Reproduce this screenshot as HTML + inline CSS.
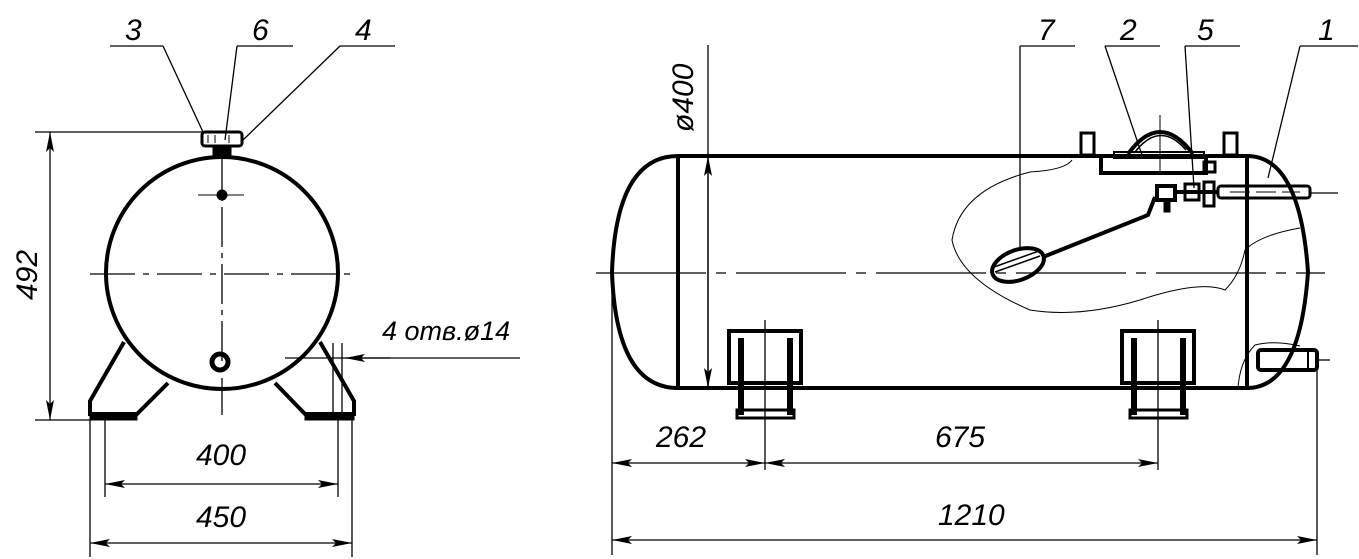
<!DOCTYPE html>
<html><head><meta charset="utf-8"><style>
html,body{margin:0;padding:0;background:#fff}
svg{display:block}
text{font-family:"Liberation Sans",sans-serif;font-style:italic;fill:#000}
</style></head><body>
<svg width="1359" height="559" viewBox="0 0 1359 559" xmlns="http://www.w3.org/2000/svg">
<defs>
<marker id="a" viewBox="0 0 20 8" refX="20" refY="4" markerWidth="20" markerHeight="8" markerUnits="userSpaceOnUse" orient="auto-start-reverse"><path d="M0,0 L20,4 L0,8 L4,4z" fill="#000"/></marker>
</defs>
<g fill="none" stroke="#000">
<!-- LEFT VIEW -->
<circle cx="222" cy="273" r="116" stroke-width="4"/>
<line x1="90" y1="274" x2="358" y2="274" stroke-width="1.3" stroke-dasharray="45,8,6,8"/>
<line x1="222" y1="150" x2="222" y2="415" stroke-width="1.3" stroke-dasharray="40,6,5,6"/>
<rect x="202" y="132" width="40" height="14" rx="3" stroke-width="3"/>
<line x1="208" y1="135" x2="208" y2="143" stroke-width="1"/><line x1="215" y1="135" x2="215" y2="143" stroke-width="1"/><line x1="229" y1="135" x2="229" y2="143" stroke-width="1"/>
<rect x="213" y="146" width="18" height="10" fill="#000" stroke-width="1"/>
<circle cx="222" cy="195" r="5" fill="#000" stroke-width="1"/>
<line x1="198" y1="195" x2="244" y2="195" stroke-width="1"/>
<circle cx="220" cy="362" r="8" stroke-width="5"/>
<!-- feet -->
<path d="M124,342 L90,401 L90,414 L137,414 L168,383" stroke-width="4"/>
<path d="M320,342 L354,401 L354,414 L305,414 L275,383" stroke-width="4"/>
<rect x="90" y="414" width="47" height="6" fill="#000" stroke-width="1"/>
<rect x="305" y="414" width="49" height="6" fill="#000" stroke-width="1"/>
<!-- dims left -->
<g stroke-width="1.3">
<line x1="35" y1="132" x2="202" y2="132"/><line x1="35" y1="420" x2="90" y2="420"/>
<line x1="50" y1="132" x2="50" y2="420" marker-start="url(#a)" marker-end="url(#a)"/>
<line x1="105" y1="418" x2="105" y2="497"/><line x1="338" y1="418" x2="338" y2="497"/>
<line x1="105" y1="484" x2="338" y2="484" marker-start="url(#a)" marker-end="url(#a)"/>
<line x1="90" y1="420" x2="90" y2="557"/><line x1="352" y1="420" x2="352" y2="557"/>
<line x1="90" y1="543" x2="352" y2="543" marker-start="url(#a)" marker-end="url(#a)"/>
<line x1="333" y1="343" x2="333" y2="420"/><line x1="342" y1="343" x2="342" y2="420"/>
<line x1="520" y1="358" x2="285" y2="358"/>
<line x1="390" y1="358" x2="345" y2="358" marker-end="url(#a)"/>
<line x1="110" y1="46" x2="163" y2="46"/><line x1="163" y1="46" x2="203" y2="132"/>
<line x1="237" y1="46" x2="293" y2="46"/><line x1="237" y1="46" x2="225" y2="140"/>
<line x1="340" y1="46" x2="395" y2="46"/><line x1="340" y1="46" x2="243" y2="140"/>
</g>
<!-- RIGHT VIEW -->
<path d="M678,156 L1247,156 Q1300,156 1308,272 Q1300,388 1247,388 L678,388 Q616,388 612,272 Q616,156 678,156 Z" stroke-width="4"/>
<line x1="678" y1="156" x2="678" y2="388" stroke-width="4"/>
<line x1="1247" y1="156" x2="1247" y2="388" stroke-width="4"/>
<line x1="596" y1="273" x2="1325" y2="273" stroke-width="1.3" stroke-dasharray="110,10,10,10"/>
<!-- feet -->
<rect x="729" y="331" width="72" height="52" stroke-width="4"/>
<path d="M741,338 V415 M790,338 V415" stroke-width="6"/>
<rect x="737" y="410" width="57" height="8" stroke-width="3"/>
<rect x="1122" y="331" width="72" height="52" stroke-width="4"/>
<path d="M1134,338 V415 M1183,338 V415" stroke-width="6"/>
<rect x="1130" y="410" width="57" height="8" stroke-width="3"/>
<line x1="765" y1="320" x2="765" y2="470" stroke-width="1.3"/>
<line x1="1158" y1="320" x2="1158" y2="470" stroke-width="1.3"/>
<!-- manhole -->
<rect x="1101" y="156" width="105" height="17" stroke-width="4"/>
<path d="M1128,154 Q1160,110 1193,154" stroke-width="4"/>
<path d="M1135,152 Q1160,120 1186,150" stroke-width="1.5"/>
<rect x="1114" y="152" width="90" height="6" stroke-width="2"/>
<line x1="1160" y1="115" x2="1160" y2="172" stroke-width="1"/>
<rect x="1081" y="133" width="13" height="22" stroke-width="3"/>
<rect x="1224" y="133" width="13" height="22" stroke-width="3"/>
<rect x="1204" y="162" width="11" height="10" stroke-width="3"/>
<!-- pipe -->
<rect x="1218" y="186" width="92" height="12" rx="3" stroke-width="3"/>
<line x1="1230" y1="192" x2="1300" y2="192" stroke-width="1" stroke-dasharray="20,6"/>
<line x1="1310" y1="193" x2="1338" y2="193" stroke-width="1.3"/>
<rect x="1157" y="186" width="18" height="14" stroke-width="4"/>
<rect x="1185" y="184" width="14" height="16" stroke-width="3"/>
<rect x="1204" y="182" width="10" height="24" stroke-width="3"/>
<line x1="1175" y1="192" x2="1218" y2="192" stroke-width="4"/>
<rect x="1164" y="200" width="6" height="12" fill="#000"/>
<!-- float arm -->
<path d="M1043,257 L1148,215 L1155,197" stroke-width="4"/>
<ellipse cx="1018" cy="265" rx="27" ry="15" transform="rotate(-20 1018 265)" stroke-width="4"/>
<line x1="995" y1="272" x2="1040" y2="256" stroke-width="1.5"/>
<line x1="994" y1="267" x2="1039" y2="251" stroke-width="1.5"/>
<!-- break line -->
<path d="M1072,160 Q1065,170 1030,172 Q960,190 952,240 Q960,280 1030,310 Q1080,318 1140,300 Q1200,280 1225,290 Q1240,275 1245,250 Q1260,235 1300,228" stroke-width="1"/>
<path d="M1238,388 Q1240,360 1255,345 Q1275,340 1300,346" stroke-width="1"/>
<!-- bottom nozzle -->
<rect x="1258" y="350" width="59" height="20" rx="3" stroke-width="4"/>
<line x1="1308" y1="351" x2="1308" y2="369" stroke-width="2"/>
<line x1="1317" y1="360" x2="1330" y2="360" stroke-width="1.3"/>
<!-- dims right -->
<g stroke-width="1.3">
<line x1="708" y1="45" x2="708" y2="388" />
<line x1="708" y1="260" x2="708" y2="156" marker-end="url(#a)"/>
<line x1="708" y1="260" x2="708" y2="388" marker-end="url(#a)"/>
<line x1="612" y1="272" x2="612" y2="555"/>
<line x1="1317" y1="370" x2="1317" y2="555"/>
<line x1="612" y1="463" x2="765" y2="463" marker-start="url(#a)" marker-end="url(#a)"/>
<line x1="765" y1="463" x2="1158" y2="463" marker-start="url(#a)" marker-end="url(#a)"/>
<line x1="612" y1="540" x2="1317" y2="540" marker-start="url(#a)" marker-end="url(#a)"/>
<line x1="1020" y1="46" x2="1075" y2="46"/><line x1="1020" y1="46" x2="1020" y2="250"/>
<line x1="1105" y1="46" x2="1160" y2="46"/><line x1="1105" y1="46" x2="1142" y2="155"/>
<line x1="1185" y1="46" x2="1240" y2="46"/><line x1="1185" y1="46" x2="1194" y2="188"/>
<line x1="1300" y1="46" x2="1358" y2="46"/><line x1="1300" y1="46" x2="1268" y2="178"/>
</g>
</g>
<g font-size="30">
<text x="125" y="40">3</text>
<text x="252" y="40">6</text>
<text x="355" y="40">4</text>
<text x="1038" y="40">7</text>
<text x="1120" y="40">2</text>
<text x="1197" y="40">5</text>
<text x="1318" y="40">1</text>
<text x="196" y="465">400</text>
<text x="196" y="527">450</text>
<text x="656" y="447">262</text>
<text x="935" y="447">675</text>
<text x="938" y="525">1210</text>
<text x="0" y="0" transform="translate(37,300) rotate(-90)">492</text>
<text x="0" y="0" transform="translate(693,132) rotate(-90)">ø400</text>
</g>
<text x="382" y="340" font-size="27">4 отв.ø14</text>
</svg>
</body></html>
